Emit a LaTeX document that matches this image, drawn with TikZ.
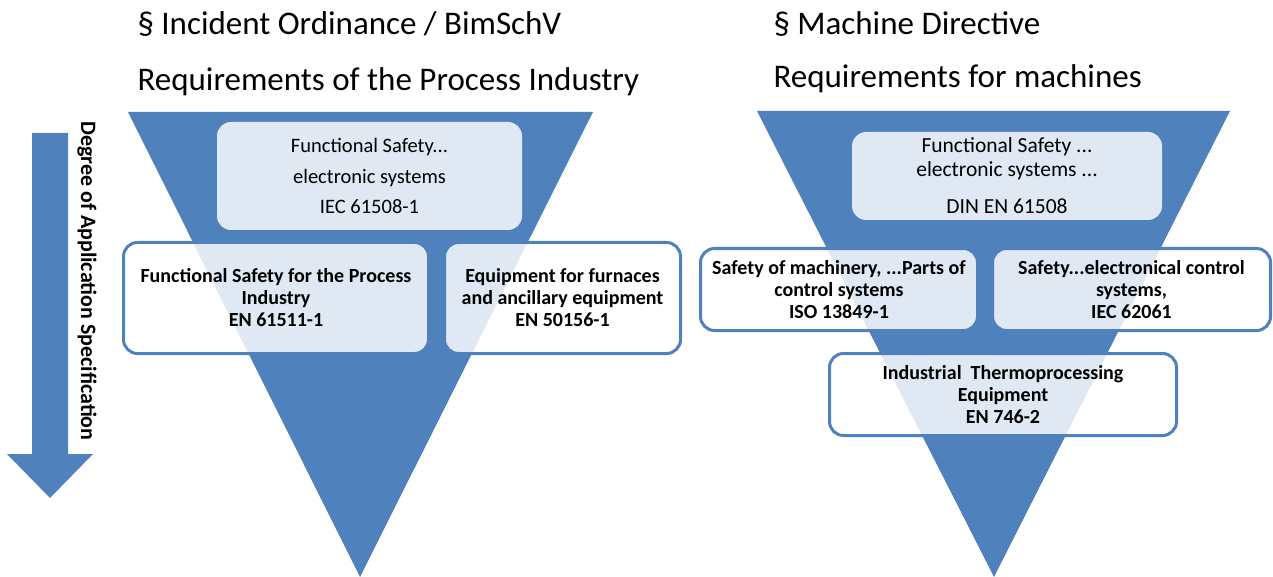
\documentclass[tikz,border=0pt]{standalone}
\usepackage{fontspec}
\setmainfont{Carlito}
\usetikzlibrary{positioning}
\definecolor{officeblue}{RGB}{79,129,189}

\begin{document}
\begin{tikzpicture}[x=1pt,y=-1pt,
	heading/.style={anchor=base west, font=\fontsize{33}{38}\selectfont},
	topnode/.style={rounded corners=14pt, fill=white, fill opacity=0.82, text opacity=1, align=center, inner sep=0pt, font=\fontsize{20.5}{22}\selectfont},
	stdnode/.style={rounded corners=14pt, draw=officeblue, line width=3pt, fill=white, fill opacity=0.82, text opacity=1, align=center, inner sep=0pt, font=\bfseries\fontsize{20}{22}\selectfont},]
						\useasboundingbox (0,0) rectangle (1273,577);

						% funnels
						\fill[officeblue] (128,112) -- (593,112) -- (360,577) -- cycle;
						\fill[officeblue] (757,111) -- (1230,111) -- (994,577) -- cycle;

						% arrow on the left
						\fill[officeblue] (32,133) -- (68,133) -- (68,454) -- (93,454) -- (50,498) -- (7,454) -- (32,454) -- cycle;
						\node[rotate=-90, font=\bfseries\fontsize{22}{24}\selectfont](degree) at (87,281){Degree of Application Specification};

						% headings
						\node[heading](incident) at (134,35){\S\ Incident Ordinance / BimSchV};
						\node[heading](processreq) at (134,91){Requirements of the Process Industry};
						\node[heading](machine) at (770,35){\S\ Machine Directive};
						\node[heading](machinereq) at (770,88){Requirements for machines};

						% process industry
						\node[topnode, minimum width=305, minimum height=108](iec61508) at (369.5,176){Functional Safety...\\[9pt] electronic systems\\[8pt] IEC 61508-1};
						\node[stdnode, minimum width=305, minimum height=111](en61511) at (276,298){Functional Safety for the Process\\ Industry\\ EN 61511-1};
						\node[stdnode, minimum width=236, minimum height=111](en50156)[right=13pt of en61511]{Equipment for furnaces\\ and ancillary equipment\\ EN 50156-1};

						% machines
						\node[topnode, minimum width=310, minimum height=88, font=\fontsize{21.5}{22}\selectfont](din61508) at (1007,176){Functional Safety ...\\[2pt] electronic systems ...\\[15pt] DIN EN 61508};
						\node[stdnode, minimum width=277, minimum height=82](iso13849) at (839,289.5){Safety of machinery, ...Parts of\\ control systems\\ ISO 13849-1};
						\node[stdnode, minimum width=278, minimum height=82](iec62061)[right=12pt of iso13849]{Safety...electronical control\\ systems,\\ IEC 62061};
						\node[stdnode, minimum width=347, minimum height=82](en746) at (1003,394.5){Industrial\ \ Thermoprocessing\\ Equipment\\ EN 746-2};
				\end{tikzpicture}
\end{document}
